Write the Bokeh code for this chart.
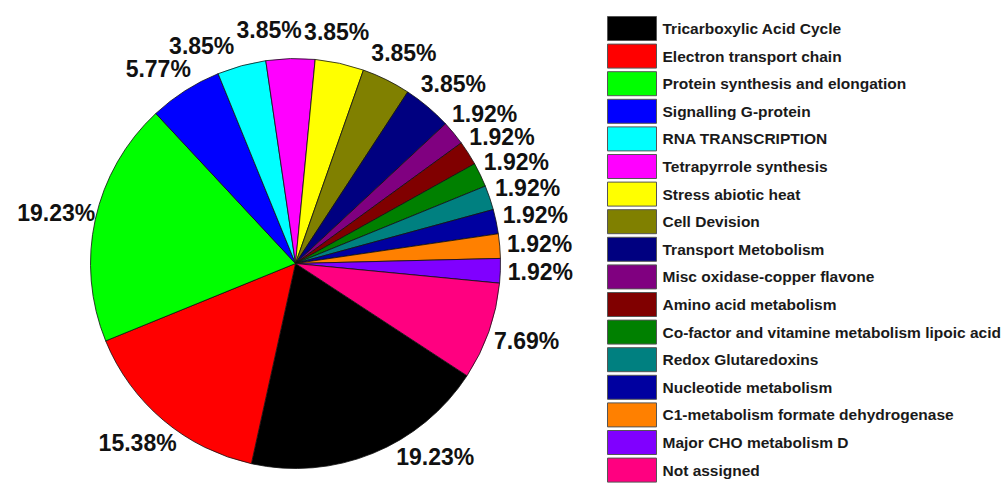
import math
from bokeh.plotting import figure
from bokeh.models import Range1d, ColumnDataSource
from bokeh.core.properties import value
from bokeh.embed import file_html
from bokeh.resources import INLINE

# ---------------- data ----------------
categories = [
    "Tricarboxylic Acid Cycle",
    "Electron transport chain",
    "Protein synthesis and elongation",
    "Signalling G-protein",
    "RNA TRANSCRIPTION",
    "Tetrapyrrole synthesis",
    "Stress abiotic heat",
    "Cell Devision",
    "Transport Metobolism",
    "Misc oxidase-copper flavone",
    "Amino acid metabolism",
    "Co-factor and vitamine metabolism lipoic acid",
    "Redox  Glutaredoxins",
    "Nucleotide metabolism",
    "C1-metabolism formate dehydrogenase",
    "Major CHO metabolism D",
    "Not assigned",
]
counts = [10, 8, 10, 3, 2, 2, 2, 2, 2, 1, 1, 1, 1, 1, 1, 1, 4]
colors = [
    "#000000", "#ff0000", "#00ff00", "#0000ff", "#00ffff", "#ff00ff",
    "#ffff00", "#808000", "#000080", "#800080", "#800000", "#008000",
    "#008080", "#0000a0", "#ff8000", "#8000ff", "#ff0080",
]

# ---------------- layout ----------------
W, H = 1003, 486
CX, CY = 295, H - 263
R = 205
START_DEG = 326.8          # anticlockwise edge of the first slice; slices run clockwise
LABEL_RX, LABEL_RY = 245, 235
LABEL_FS = 23
LEG_X0, LEG_TOP, LEG_STEP = 607, 16, 27.6
SW_W, SW_H = 49, 24

total = float(sum(counts))
percent_labels = [f"{100.0 * c / total:.2f}%" for c in counts]

starts, ends, mids = [], [], []
acc = 0.0
for c in counts:
    a_hi = START_DEG - acc / total * 360.0
    acc += c
    a_lo = START_DEG - acc / total * 360.0
    starts.append(math.radians(a_lo))
    ends.append(math.radians(a_hi))
    mids.append(math.radians((a_lo + a_hi) / 2.0))

# ---- label placement: on an oval at the slice mid-angle, kept inside the page, de-overlapped
char_w = {".": 0.278, "%": 0.889}
def text_w(t):
    return sum(char_w.get(ch, 0.556) for ch in t) * LABEL_FS
LH = 20.0

def pos(a):
    return CX + LABEL_RX * math.cos(a), CY + LABEL_RY * math.sin(a)

angles = []
for m in mids:
    a = math.atan2(math.sin(m), math.cos(m))
    x, y = pos(a)
    min_y = 20 + LH / 2
    if y < min_y:
        s = (min_y - CY) / LABEL_RY
        cx_sign = 1 if math.cos(a) >= 0 else -1
        a = math.atan2(s, cx_sign * math.sqrt(1 - s * s))
    angles.append(a)

def overlap(i, ai, j, aj, pad=2.0):
    xi, yi = pos(ai)
    xj, yj = pos(aj)
    wi, wj = text_w(percent_labels[i]), text_w(percent_labels[j])
    return abs(xi - xj) < (wi + wj) / 2 + pad and abs(yi - yj) < LH + pad

upper = sorted([i for i in range(len(counts)) if 0 < angles[i] < math.pi], key=lambda i: angles[i])
placed = [i for i in range(len(counts)) if i not in upper]
for i in upper:
    while any(overlap(i, angles[i], j, angles[j]) for j in placed):
        angles[i] += math.radians(0.25)
    placed.append(i)

lx = [pos(a)[0] for a in angles]
ly = [pos(a)[1] for a in angles]

src = ColumnDataSource(dict(
    cat=categories, start=starts, end=ends, color=colors,
    lx=lx, ly=ly, lab=percent_labels,
    sx=[LEG_X0 + SW_W / 2] * len(categories),
    sy=[H - (LEG_TOP + SW_H / 2 + k * LEG_STEP) for k in range(len(categories))],
    tx=[LEG_X0 + SW_W + 6] * len(categories),
))

p = figure(width=W, height=H, x_range=Range1d(0, W), y_range=Range1d(0, H),
           output_backend="svg", toolbar_location=None, min_border=0)
p.axis.visible = False
p.grid.visible = False
p.outline_line_color = None
p.background_fill_color = "white"
p.border_fill_color = "white"

p.wedge(x=CX, y=CY, radius=R, start_angle="start", end_angle="end",
        direction="anticlock", fill_color="color", line_color="#111111",
        line_width=0.8, source=src)

p.text(x="lx", y="ly", text="lab", source=src, text_align="center",
       text_baseline="middle", text_font=value("Liberation Sans"),
       text_font_style="bold", text_font_size=f"{LABEL_FS}px", text_color="#111111")

# legend (drawn)
p.rect(x="sx", y="sy", width=SW_W, height=SW_H, fill_color="color",
       line_color="#555555", line_width=1, source=src)
p.text(x="tx", y="sy", text="cat", source=src, text_align="left",
       text_baseline="middle", text_font=value("Liberation Sans"),
       text_font_style="bold", text_font_size="15.5px", text_color="#1a1a1a")

open("out.html", "w").write(file_html(p, INLINE))
